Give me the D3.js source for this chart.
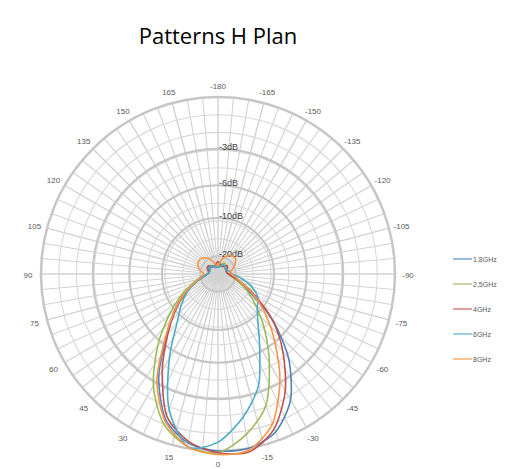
<!DOCTYPE html>
<html>
<head>
<meta charset="utf-8">
<script src="https://cdn.jsdelivr.net/npm/d3@7/dist/d3.min.js"></script>
<style>
  body { margin: 0; background: #fff; }
  svg { display: block; }
</style>
</head>
<body>
<svg id="chart" width="507" height="469"></svg>
<script>
// Measured angles (degrees), one value per 10 degrees
const angles = [
  -180, -170, -160, -150, -140, -130, -120, -110, -100, -90, -80, -70,
  -60, -50, -40, -30, -20, -10, 0, 10, 20, 30, 40, 50,
  60, 70, 80, 90, 100, 110, 120, 130, 140, 150, 160, 170
]

const frequencies = ['1,8GHz', '2,5GHz', '4GHz', '6GHz', '8GHz']

// Relative field (linear, 1 = peak) per angle
const field18 = [
  0.04, 0.04, 0.05, 0.05, 0.06, 0.06, 0.05, 0.05, 0.05, 0.06, 0.08, 0.12,
  0.21, 0.40, 0.62, 0.82, 0.95, 1.00, 1.00, 0.97, 0.87, 0.67, 0.45, 0.32,
  0.22, 0.14, 0.09, 0.06, 0.05, 0.05, 0.06, 0.06, 0.05, 0.05, 0.04, 0.04
]
const field25 = [
  0.05, 0.05, 0.06, 0.07, 0.07, 0.06, 0.05, 0.05, 0.05, 0.06, 0.08, 0.12,
  0.19, 0.28, 0.41, 0.58, 0.79, 0.92, 1.01, 0.99, 0.90, 0.73, 0.53, 0.36,
  0.24, 0.15, 0.09, 0.06, 0.05, 0.06, 0.07, 0.07, 0.06, 0.05, 0.05, 0.05
]
const field4 = [
  0.07, 0.06, 0.05, 0.05, 0.06, 0.07, 0.06, 0.05, 0.05, 0.06, 0.08, 0.14,
  0.24, 0.40, 0.57, 0.76, 0.93, 1.02, 1.01, 0.96, 0.85, 0.63, 0.44, 0.31,
  0.21, 0.13, 0.08, 0.06, 0.05, 0.06, 0.07, 0.07, 0.06, 0.05, 0.05, 0.06
]
const field6 = [
  0.04, 0.04, 0.05, 0.06, 0.06, 0.05, 0.05, 0.06, 0.07, 0.08, 0.13, 0.20,
  0.26, 0.29, 0.35, 0.47, 0.67, 0.82, 0.95, 0.99, 0.81, 0.55, 0.36, 0.27,
  0.20, 0.13, 0.08, 0.06, 0.05, 0.05, 0.05, 0.06, 0.06, 0.05, 0.04, 0.04
]
const field8 = [
  0.05, 0.07, 0.10, 0.12, 0.13, 0.13, 0.11, 0.09, 0.07, 0.08, 0.10, 0.14,
  0.23, 0.35, 0.50, 0.70, 0.90, 1.01, 1.02, 0.99, 0.88, 0.69, 0.46, 0.32,
  0.22, 0.14, 0.10, 0.08, 0.10, 0.12, 0.13, 0.13, 0.12, 0.10, 0.07, 0.05
]

const seriesColors = ['#4F81BD', '#9BBB59', '#C0504D', '#4BACC6', '#F79646']

// Angle tick labels and dB reference rings
const angleLabels = [
  -180, -165, -150, -135, -120, -105, -90, -75, -60, -45, -30, -15,
  0, 15, 30, 45, 60, 75, 90, 105, 120, 135, 150, 165
]
const dbRings = [-3, -6, -10, -20]

const series = [field18, field25, field4, field6, field8].map((values, i) => ({
  name: frequencies[i],
  color: seriesColors[i],
  points: angles.map((a, j) => ({ angle: a, value: values[j] }))
}))

const center = { x: 218, y: 274 }
const outerRadius = 177

const svg = d3.select('#chart')

const rScale = d3.scaleLinear()
  .domain([0, 1])
  .range([0, outerRadius])

// 0 deg points down, positive angles to the left (as in the reference)
const aScale = d3.scaleLinear()
  .domain([-180, 180])
  .range([0, 2 * Math.PI])

const toXY = (deg, r) => {
  const a = aScale(deg)
  return [r * Math.sin(a), -r * Math.cos(a)]
}

svg.append('text')
  .attr('x', 218)
  .attr('y', 44)
  .attr('text-anchor', 'middle')
  .style('font-family', '"Open Sans", sans-serif')
  .style('font-size', '22px')
  .style('fill', '#000')
  .text('Patterns H Plan')

const plot = svg.append('g')
  .attr('transform', `translate(${center.x},${center.y})`)

/**
 * Draw rings, spokes and labels of the polar grid
 */
function drawGrid () {
  const grid = plot.append('g').attr('class', 'grid')

  grid.selectAll('.spoke')
    .data(d3.range(-180, 180, 5))
    .enter()
    .append('line')
    .attr('class', 'spoke')
    .attr('x1', 0)
    .attr('y1', 0)
    .attr('x2', (d) => toXY(d, outerRadius)[0])
    .attr('y2', (d) => toXY(d, outerRadius)[1])
    .attr('stroke', '#d2d2d2')
    .attr('stroke-width', (d) => (d % 15 === 0 ? 1.4 : 1.1))

  grid.selectAll('.ring')
    .data(rScale.ticks(10).filter((d) => d > 0 && d < 1))
    .enter()
    .append('circle')
    .attr('class', 'ring')
    .attr('r', (d) => rScale(d))
    .attr('fill', 'none')
    .attr('stroke', '#d8d8d8')
    .attr('stroke-width', 1.1)

  grid.selectAll('.db-ring')
    .data(dbRings)
    .enter()
    .append('circle')
    .attr('class', 'db-ring')
    .attr('r', (d) => rScale(Math.pow(10, d / 20)))
    .attr('fill', 'none')
    .attr('stroke', '#c6c6c6')
    .attr('stroke-width', 2)

  grid.append('circle')
    .attr('r', outerRadius)
    .attr('fill', 'none')
    .attr('stroke', '#c6c6c6')
    .attr('stroke-width', 2.5)

  grid.selectAll('.angle-label')
    .data(angleLabels)
    .enter()
    .append('text')
    .attr('class', 'angle-label')
    .attr('x', (d) => toXY(d, outerRadius + 13)[0])
    .attr('y', (d) => toXY(d, outerRadius + 12)[1] + 1)
    .attr('text-anchor', 'middle')
    .attr('dominant-baseline', 'central')
    .style('font-family', '"Liberation Sans", sans-serif')
    .style('font-size', '8px')
    .style('fill', '#595959')
    .text((d) => d)

  grid.selectAll('.db-label')
    .data(dbRings)
    .enter()
    .append('text')
    .attr('class', 'db-label')
    .attr('x', 1)
    .attr('y', (d) => -rScale(Math.pow(10, d / 20)) - 2)
    .attr('dominant-baseline', 'central')
    .style('font-family', '"Liberation Sans", sans-serif')
    .style('font-size', '9px')
    .style('fill', '#404040')
    .text((d) => `${d}dB`)
}

/**
 * Draw one closed radiation pattern per frequency
 */
function drawSeries () {
  const line = d3.lineRadial()
    .angle((d) => aScale(d.angle))
    .radius((d) => rScale(d.value))
    .curve(d3.curveCardinalClosed.tension(0.2))

  plot.append('g')
    .attr('class', 'patterns')
    .selectAll('path')
    .data(series)
    .enter()
    .append('path')
    .attr('d', (d) => line(d.points))
    .attr('fill', 'none')
    .attr('stroke', (d) => d.color)
    .attr('stroke-width', 1.6)
}

/**
 * Legend on the right side
 */
function drawLegend () {
  const legend = svg.append('g')
    .attr('transform', 'translate(453,259)')

  const item = legend.selectAll('.legend-item')
    .data(series)
    .enter()
    .append('g')
    .attr('class', 'legend-item')
    .attr('transform', (d, i) => `translate(0,${i * 25})`)

  item.append('line')
    .attr('x1', 0)
    .attr('x2', 19)
    .attr('stroke', (d) => d.color)
    .attr('stroke-opacity', 0.75)
    .attr('stroke-width', 1.5)

  item.append('text')
    .attr('x', 20)
    .attr('dominant-baseline', 'central')
    .style('font-family', '"Liberation Sans", sans-serif')
    .style('font-size', '7px')
    .style('fill', '#595959')
    .text((d) => d.name)
}

drawGrid()
drawSeries()
drawLegend()
</script>
</body>
</html>
